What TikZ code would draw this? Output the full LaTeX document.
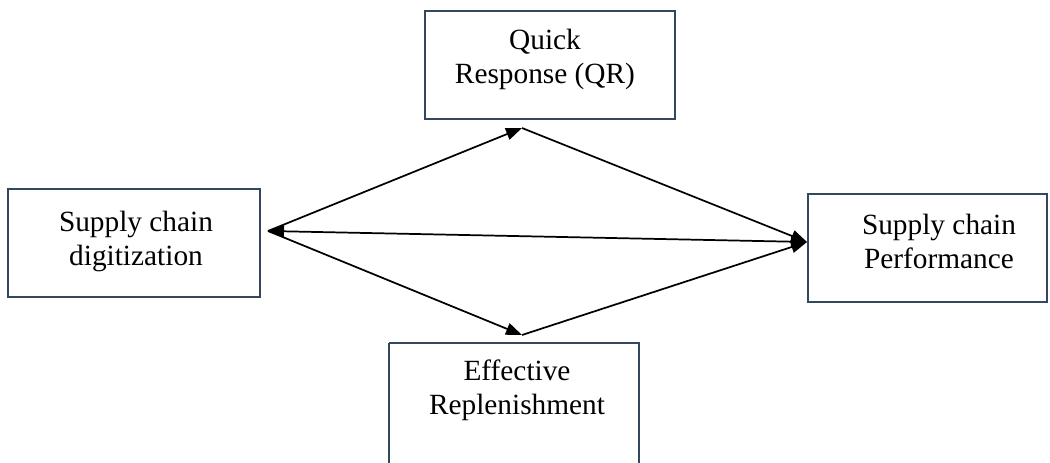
\documentclass[tikz,border=0pt]{standalone}
\usepackage{fontspec}
\setmainfont{Liberation Serif}
\usetikzlibrary{arrows.meta}
\definecolor{boxline}{HTML}{33475F}
\tikzset{
  boxshape/.style={draw=boxline, line width=1.2pt},
  lbl/.style={align=center, inner sep=0pt, font=\fontsize{22}{25.5}\selectfont},
  conn/.style={line width=1.3pt, -{Triangle[length=12pt,width=9pt]}},
  biconn/.style={line width=1.3pt, {Triangle[length=12pt,width=9pt]}-{Triangle[length=12pt,width=9pt]}}
}
\begin{document}
\begin{tikzpicture}[x=0.75pt,y=-0.75pt]
\useasboundingbox (0,0) rectangle (1050,463);
\clip (0,0) rectangle (1050,463);
% boxes
\draw[boxshape] (8,189) rectangle (260,297);
\draw[boxshape] (425,11) rectangle (675,119);
\draw[boxshape] (808,194) rectangle (1047,302);
\draw[boxshape] (389,343) -- (389,480) (639,480) -- (639,343) -- (389,343);
% labels
\node[lbl] (scd) at (136,241.5) {Supply chain\\digitization};
\node[lbl] (qr) at (545,59) {Quick\\Response (QR)};
\node[lbl] (scp) at (939,241.5) {Supply chain\\Performance};
\node[lbl] (er) at (517,390) {Effective\\Replenishment};
% connector end points
\coordinate (L) at (268,231);
\coordinate (T) at (522,128);
\coordinate (B) at (522,335);
\coordinate (R) at (807,242);
\draw[conn] (L) -- (T);
\draw[conn] (T) -- (R);
\draw[conn] (L) -- (B);
\draw[conn] (B) -- (R);
\draw[biconn] (L) -- (R);
\end{tikzpicture}
\end{document}
